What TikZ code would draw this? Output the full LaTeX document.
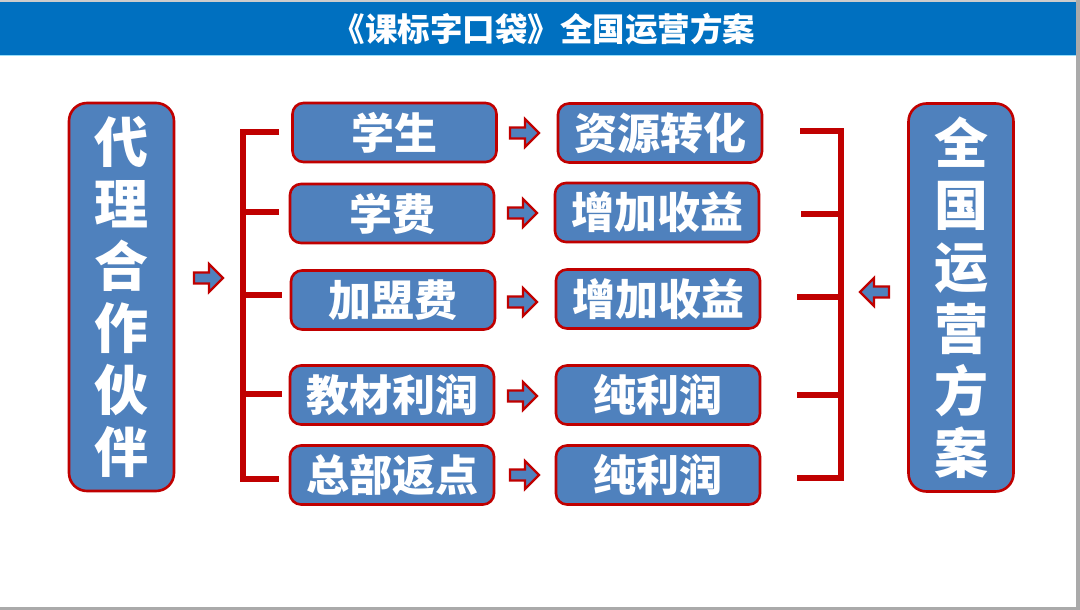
\documentclass[tikz,border=0pt]{standalone}
\usepackage{fontspec}
\setmainfont{Noto Sans CJK SC}
\usetikzlibrary{positioning}
\definecolor{titleblue}{RGB}{0,112,192}
\definecolor{boxblue}{RGB}{79,129,189}
\definecolor{darkred}{RGB}{192,0,0}
\definecolor{framegray}{RGB}{170,170,170}
\tikzset{
  x=1pt, y=-1pt,
  itembox/.style={draw=darkred, line width=2.6pt, fill=boxblue, rounded corners=11pt,
    minimum width=204pt, minimum height=59pt, inner sep=0pt,
    text=white, font=\fontsize{43}{46}\selectfont\bfseries},
  tallbox/.style={draw=darkred, line width=2.6pt, fill=boxblue, rounded corners=18pt,
    minimum width=105pt, minimum height=388pt, inner sep=0pt, align=center,
    text=white, font=\fontsize{54}{62}\selectfont\bfseries},
  bracket/.style={draw=darkred, line width=6pt},
  barrow/.style={draw=darkred, line width=2.2pt, fill=boxblue, line join=miter},
}
\newcommand{\rarrow}[2]{\draw[barrow, shift={(#1,#2)}] (-14,-5.5) -- (1,-5.5) -- (1,-14) -- (15,0) -- (1,14) -- (1,5.5) -- (-14,5.5) -- cycle;}
\newcommand{\larrow}[2]{\draw[barrow, shift={(#1,#2)}] (14,-5.5) -- (-1,-5.5) -- (-1,-14) -- (-15,0) -- (-1,14) -- (-1,5.5) -- (14,5.5) -- cycle;}
\begin{document}
\begin{tikzpicture}
\useasboundingbox (0,0) rectangle (1080,610);
\fill[white] (0,0) rectangle (1080,610);
% frame
\fill[framegray!60] (0,0) rectangle (1080,2);
\fill[framegray] (1076,0) rectangle (1080,610);
\fill[framegray] (0,607) rectangle (1080,610);
% title bar
\fill[titleblue] (0,2) rectangle (1076,55);
\draw[cyan!40, line width=0.8pt] (0,55) -- (1076,55);
\node[text=white, font=\fontsize{32.5}{35}\selectfont\bfseries] (title) at (544,29) {《课标字口袋》全国运营方案};

% side boxes
\node[tallbox] (left) at (121.5,297) {代\\理\\合\\作\\伙\\伴};
\node[tallbox] (right) at (961,297.5) {全\\国\\运\\营\\方\\案};

% column 1
\node[itembox] (a1) at (394.5,132.5) {学生};
\node[itembox] (a2) at (392,213.5) {学费};
\node[itembox] (a3) at (393,300) {加盟费};
\node[itembox] (a4) at (392,395) {教材利润};
\node[itembox] (a5) at (392,475) {总部返点};
% column 2
\node[itembox] (b1) at (660,133) {资源转化};
\node[itembox] (b2) at (657,212.5) {增加收益};
\node[itembox] (b3) at (658,299) {增加收益};
\node[itembox] (b4) at (658,395) {纯利润};
\node[itembox] (b5) at (658,475) {纯利润};

% block arrows between columns
\rarrow{524}{133}
\rarrow{522}{213}
\rarrow{522}{302}
\rarrow{522}{396}
\rarrow{524}{475}
% side arrows
\rarrow{208}{278}
\larrow{875}{292}

% left bracket
\coordinate (lt) at (243,132);
\coordinate (lb) at (243,479);
\draw[bracket] (279,132) -- (lt) -- (lb) -- (279,479);
\draw[bracket] (243,212) -- (279,212);
\draw[bracket] (243,295) -- (282,295);
\draw[bracket] (243,394) -- (282,394);
% right bracket
\coordinate (rt) at (841,131);
\coordinate (rb) at (841,478);
\draw[bracket] (800,131) -- (rt) -- (rb) -- (797,478);
\draw[bracket] (801,214) -- (841,214);
\draw[bracket] (797,297) -- (841,297);
\draw[bracket] (797,395) -- (841,395);
\end{tikzpicture}
\end{document}
